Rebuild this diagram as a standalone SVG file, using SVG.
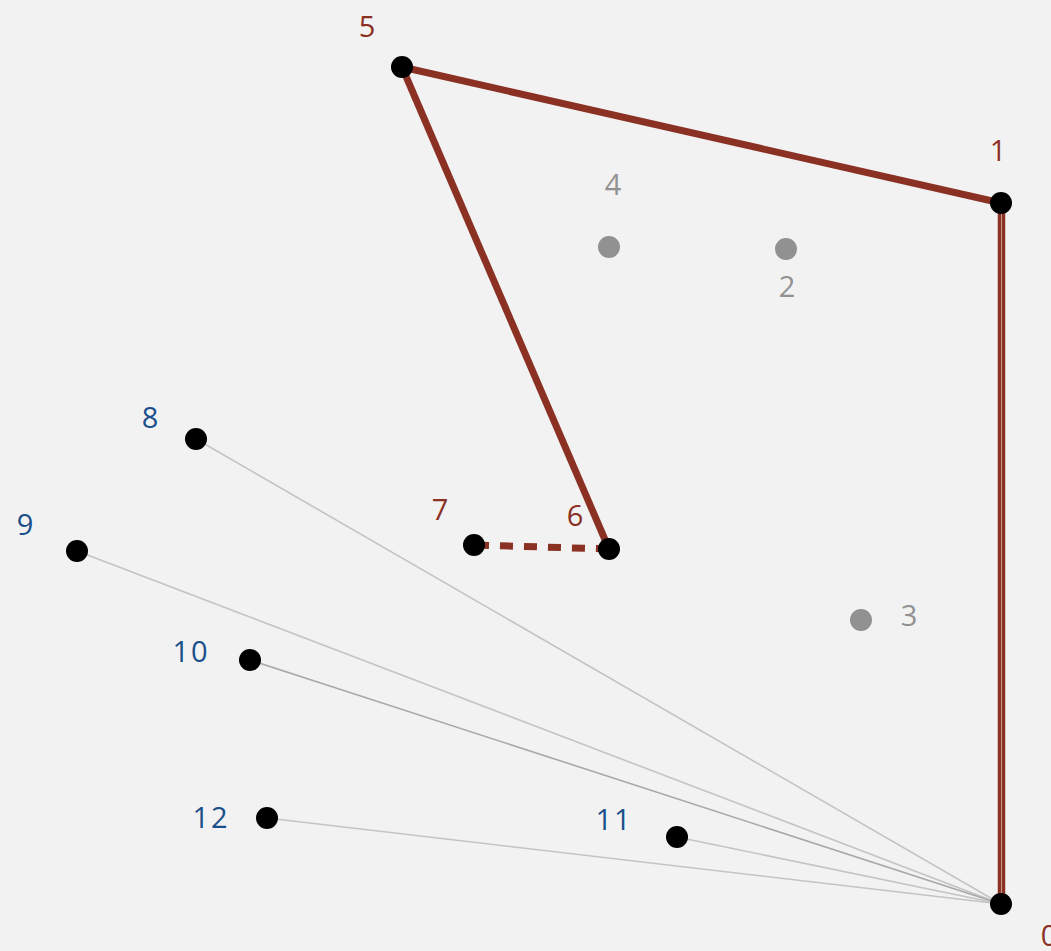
<svg xmlns="http://www.w3.org/2000/svg" width="1051" height="951" viewBox="0 0 1051 951">
<style>
.bg{fill:#f2f2f2}
.red{stroke:#8b3124;stroke-width:7;fill:none;stroke-linecap:butt}
.thin{stroke:#c4c4c4;stroke-width:1.6;fill:none}
.dark{stroke:#a8a8a8;stroke-width:1.6;fill:none}
.dot{fill:#000}
.gdot{fill:#919191}
text{font-family:"Open Sans","Liberation Sans",sans-serif;font-size:29px;text-anchor:middle}
.lr{fill:#8b3124}
.lb{fill:#1a4f8a}
.lg{fill:#919191}
.sp{letter-spacing:2px}
</style>
<rect class="bg" x="0" y="0" width="1051" height="951"/>
<g id="connectors">
<line class="thin" x1="196" y1="439" x2="1001" y2="904"/>
<line class="thin" x1="77" y1="551" x2="1001" y2="904"/>
<line class="dark" x1="250" y1="660" x2="1001" y2="904"/>
<line class="thin" x1="267" y1="818" x2="1001" y2="904"/>
<line class="thin" x1="677" y1="837" x2="1001" y2="904"/>
<line class="red" x1="402" y1="67" x2="1001" y2="203"/>
<line class="red" x1="402" y1="67" x2="609" y2="549"/>
<line class="red" x1="474" y1="545" x2="609" y2="549" stroke-dasharray="13,11" stroke-dashoffset="-2"/>
<line class="red" style="stroke-width:3.5" x1="999.5" y1="203" x2="999.5" y2="904"/>
<line class="red" style="stroke-width:3.5" x1="1003.5" y1="203" x2="1003.5" y2="904"/>
</g>
<g id="n0"><circle class="dot" cx="1001" cy="904" r="11"/><text class="lr" x="1049" y="946">0</text></g>
<g id="n1"><circle class="dot" cx="1001" cy="203" r="11"/><text class="lr" x="998" y="161">1</text></g>
<g id="n2"><circle class="gdot" cx="786" cy="249" r="11"/><text class="lg" x="787" y="297">2</text></g>
<g id="n3"><circle class="gdot" cx="861" cy="620" r="11"/><text class="lg" x="909" y="626">3</text></g>
<g id="n4"><circle class="gdot" cx="609" cy="247" r="11"/><text class="lg" x="613" y="195">4</text></g>
<g id="n5"><circle class="dot" cx="402" cy="67" r="11"/><text class="lr" x="367" y="37">5</text></g>
<g id="n6"><circle class="dot" cx="609" cy="549" r="11"/><text class="lr" x="575" y="526">6</text></g>
<g id="n7"><circle class="dot" cx="474" cy="545" r="11"/><text class="lr" x="440" y="520">7</text></g>
<g id="n8"><circle class="dot" cx="196" cy="439" r="11"/><text class="lb" x="150" y="428">8</text></g>
<g id="n9"><circle class="dot" cx="77" cy="551" r="11"/><text class="lb" x="25" y="535">9</text></g>
<g id="n10"><circle class="dot" cx="250" cy="660" r="11"/><text class="lb sp" x="191" y="662">10</text></g>
<g id="n11"><circle class="dot" cx="677" cy="837" r="11"/><text class="lb sp" x="614" y="830">11</text></g>
<g id="n12"><circle class="dot" cx="267" cy="818" r="11"/><text class="lb sp" x="211" y="828">12</text></g>
</svg>
